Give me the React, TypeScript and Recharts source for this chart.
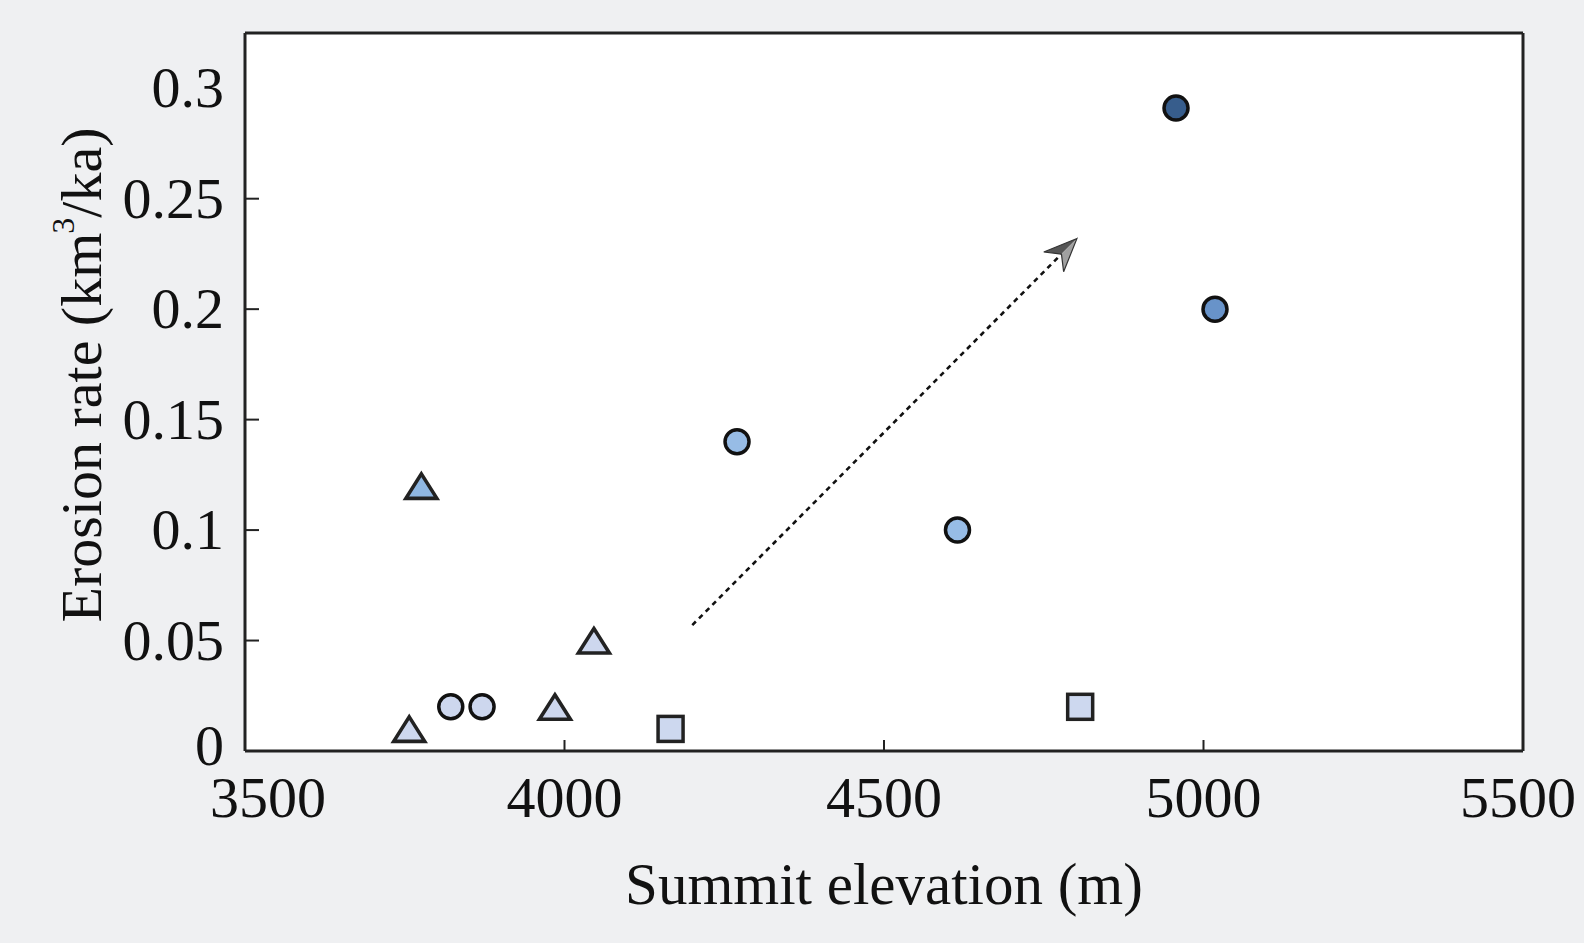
import React from 'react';
import { ScatterChart, Scatter, XAxis, YAxis, CartesianGrid, ReferenceLine } from 'recharts';

const xTicks = [3500, 4000, 4500, 5000, 5500];
const yTicks = [0, 0.05, 0.1, 0.15, 0.2, 0.25, 0.3];
const yTickLabels = ['0', '0.05', '0.1', '0.15', '0.2', '0.25', '0.3'];
const xDomain = [3500, 5500];
const yDomain = [0, 0.325];

const darkCircles = [{ elevation: 4957, rate: 0.291 }];
const midCircles = [{ elevation: 5018, rate: 0.2 }];
const lightCircles = [
  { elevation: 4270, rate: 0.14 },
  { elevation: 4615, rate: 0.1 },
];
const paleCircles = [
  { elevation: 3822, rate: 0.02 },
  { elevation: 3871, rate: 0.02 },
];
const blueTriangles = [{ elevation: 3776, rate: 0.12 }];
const paleTriangles = [
  { elevation: 3757, rate: 0.01 },
  { elevation: 3985, rate: 0.02 },
  { elevation: 4046, rate: 0.05 },
];
const paleSquares = [
  { elevation: 4166, rate: 0.01 },
  { elevation: 4807, rate: 0.02 },
];
const trendArrow = [
  { elevation: 4200, rate: 0.057 },
  { elevation: 4802, rate: 0.232 },
];

const FONT = '"Liberation Serif", "Times New Roman", serif';
const INK = '#111';
const FRAME = '#222';

const circleShape = (fill: string) => (p: any) => (
  <circle cx={p.cx} cy={p.cy} r={12} fill={fill} stroke="#111" strokeWidth={3.5} />
);

const triangleShape = (fill: string) => (p: any) => {
  const { cx, cy } = p;
  const pts = `${cx},${cy - 12} ${cx + 15.5},${cy + 12.5} ${cx - 15.5},${cy + 12.5}`;
  return <polygon points={pts} fill={fill} stroke="#222" strokeWidth={3.6} strokeLinejoin="miter" />;
};

const squareShape = (fill: string) => (p: any) => (
  <rect x={p.cx - 12.5} y={p.cy - 12.5} width={25} height={25} fill={fill} stroke="#222" strokeWidth={3.5} />
);

const XTick = (props: any) => {
  const { x, y, payload } = props;
  const v = payload.value;
  const inner = v !== 3500 && v !== 5500;
  const dx = v === 3500 ? 23 : v === 5500 ? -5 : 0;
  return (
    <g>
      {inner && <line x1={x} y1={y} x2={x} y2={y - 11} stroke={FRAME} strokeWidth={2} />}
      <text x={x + dx} y={y + 66} textAnchor="middle" fontFamily={FONT} fontSize={58} fill={INK}>
        {v}
      </text>
    </g>
  );
};

const YTick = (props: any) => {
  const { x, y, payload, index } = props;
  const v = payload.value;
  const showLine = v > 0 && v < 0.3;
  return (
    <g>
      {showLine && <line x1={x} y1={y} x2={x + 14} y2={y} stroke={FRAME} strokeWidth={2} />}
      <text x={x - 21} y={y + (v === 0 ? 14 : 19)} textAnchor="end" fontFamily={FONT} fontSize={58} fill={INK}>
        {yTickLabels[index] ?? String(v)}
      </text>
    </g>
  );
};

const XLabel = (props: any) => {
  const vb = props.viewBox || { x: 245, y: 751, width: 1278, height: 100 };
  return (
    <text x={vb.x + vb.width / 2} y={vb.y + 153} textAnchor="middle" fontFamily={FONT} fontSize={59} fill={INK}>
      Summit elevation (m)
    </text>
  );
};

const YLabel = (props: any) => {
  const vb = props.viewBox || { x: 145, y: 33, width: 100, height: 718 };
  const cx = vb.x - 64;
  const cy = vb.y + 342;
  return (
    <text
      x={cx}
      y={cy}
      transform={`rotate(-90, ${cx}, ${cy})`}
      textAnchor="middle"
      dominantBaseline="central"
      fontFamily={FONT}
      fontSize={58}
      fill={INK}
    >
      <tspan>Erosion rate (km</tspan>
      <tspan fontSize={32} dx={-1} dy={-18}>3</tspan>
      <tspan dy={18}>/ka)</tspan>
    </text>
  );
};

const ArrowShape = (p: any) => {
  const { x1, y1, x2, y2 } = p;
  if ([x1, y1, x2, y2].some((v) => typeof v !== 'number' || isNaN(v))) return null;
  const dx = x2 - x1;
  const dy = y2 - y1;
  const L = Math.hypot(dx, dy) || 1;
  const ux = dx / L;
  const uy = dy / L;
  const nx = -uy;
  const ny = ux;
  const T = [x2, y2];
  const Wl = [x2 - 33 * ux - 14 * nx, y2 - 33 * uy - 14 * ny];
  const Wr = [x2 - 33 * ux + 14 * nx, y2 - 33 * uy + 14 * ny];
  const N = [x2 - 22 * ux, y2 - 22 * uy];
  const pt = (a: number[]) => `${a[0]},${a[1]}`;
  return (
    <g>
      <line x1={x1} y1={y1} x2={N[0]} y2={N[1]} stroke="#111" strokeWidth={2.6} strokeDasharray="5 4.5" />
      <polygon points={`${pt(T)} ${pt(Wl)} ${pt(N)}`} fill="#555" />
      <polygon points={`${pt(T)} ${pt(N)} ${pt(Wr)}`} fill="#a0a0a0" />
      <polygon points={`${pt(T)} ${pt(Wl)} ${pt(N)} ${pt(Wr)}`} fill="none" stroke="#333" strokeWidth={1.2} strokeLinejoin="miter" />
    </g>
  );
};

export default function App() {
  return (
    <div style={{ position: 'absolute', left: 0, top: 0, width: 1584, height: 943, background: '#eff0f2' }}>
      <ScatterChart width={1584} height={943} margin={{ top: 33, right: 61, bottom: 92, left: 145 }}>
        <CartesianGrid fill="#ffffff" horizontal={false} vertical={false} />
        <XAxis
          dataKey="elevation"
          type="number"
          domain={xDomain}
          ticks={xTicks}
          interval={0}
          height={100}
          tickSize={0}
          tickMargin={0}
          tickLine={false}
          tick={<XTick />}
          axisLine={{ stroke: FRAME, strokeWidth: 3 }}
          allowDataOverflow
          label={<XLabel />}
        />
        <YAxis
          dataKey="rate"
          type="number"
          domain={yDomain}
          ticks={yTicks}
          interval={0}
          width={100}
          tickSize={0}
          tickMargin={0}
          tickLine={false}
          tick={<YTick />}
          axisLine={{ stroke: FRAME, strokeWidth: 3 }}
          allowDataOverflow
          label={<YLabel />}
        />
        <ReferenceLine y={yDomain[1]} stroke={FRAME} strokeWidth={3} ifOverflow="visible" />
        <ReferenceLine x={xDomain[1]} stroke={FRAME} strokeWidth={3} ifOverflow="visible" />
        <ReferenceLine
          segment={[
            { x: trendArrow[0].elevation, y: trendArrow[0].rate },
            { x: trendArrow[1].elevation, y: trendArrow[1].rate },
          ]}
          shape={<ArrowShape />}
          stroke="#111"
        />
        <Scatter data={paleTriangles} shape={triangleShape('#cdd7ee')} isAnimationActive={false} />
        <Scatter data={blueTriangles} shape={triangleShape('#8fb7e2')} isAnimationActive={false} />
        <Scatter data={paleSquares} shape={squareShape('#cdd8ef')} isAnimationActive={false} />
        <Scatter data={paleCircles} shape={circleShape('#cdd7ee')} isAnimationActive={false} />
        <Scatter data={lightCircles} shape={circleShape('#97bce6')} isAnimationActive={false} />
        <Scatter data={midCircles} shape={circleShape('#6893c9')} isAnimationActive={false} />
        <Scatter data={darkCircles} shape={circleShape('#375d8c')} isAnimationActive={false} />
      </ScatterChart>
    </div>
  );
}
